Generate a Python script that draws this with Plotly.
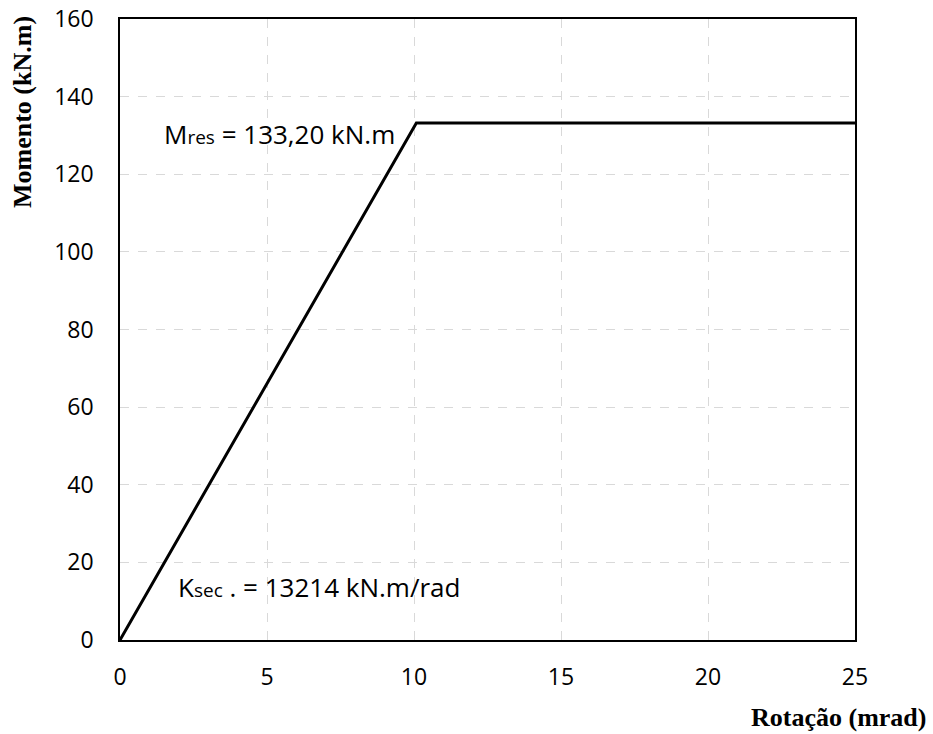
import plotly.graph_objects as go

rotation = [0, 10.08, 25]
moment = [0, 133.2, 133.2]
x_ticks = [0, 5, 10, 15, 20, 25]
y_ticks = [0, 20, 40, 60, 80, 100, 120, 140, 160]

W, H = 933, 734
PL, PR, PT, PB = 120, 855, 19, 640
L, R, T, B = PL, W - PR, PT, H - PB

fig = go.Figure()
fig.add_trace(go.Scatter(x=rotation, y=moment, mode="lines",
                         line=dict(color="black", width=3), showlegend=False,
                         hoverinfo="skip"))

tickfont = dict(family="Open Sans", size=23, color="#000")
grid = dict(showgrid=True, gridcolor="#d9d9d9", gridwidth=1, griddash="dash",
            showline=True, linecolor="black", linewidth=1.5, mirror=True,
            zeroline=False, ticks="", tickfont=tickfont, automargin=False,
            ticklabeloverflow="allow")

fig.update_xaxes(range=[0, 25], tickvals=x_ticks, ticklabelstandoff=16, **grid)
fig.update_yaxes(range=[0, 160], tickvals=y_ticks, ticklabelstandoff=20, **grid)

ann_font = dict(family="Open Sans", size=26, color="black")
fig.add_annotation(x=1.43, y=130.4, xref="x", yref="y", xanchor="left", yanchor="middle",
                   text="M<span style='font-size:19px'>res</span> = 133,20 kN.m",
                   showarrow=False, font=ann_font)
fig.add_annotation(x=1.9, y=13.7, xref="x", yref="y", xanchor="left", yanchor="middle",
                   text="K<span style='font-size:19px'>sec</span> . = 13214 kN.m/rad",
                   showarrow=False, font=ann_font)

pw, ph = PR - PL, PB - PT
title_font = dict(family="Liberation Serif", size=26, color="black")
fig.add_annotation(x=(22 - PL) / pw, y=1 - (112 - PT) / ph,
                   xref="paper", yref="paper", xanchor="center", yanchor="middle",
                   textangle=-90, text="<b>Momento (kN.m)</b>", showarrow=False,
                   font=title_font)
fig.add_annotation(x=(838 - PL) / pw, y=-(717 - PB) / ph,
                   xref="paper", yref="paper", xanchor="center", yanchor="middle",
                   text="<b>Rotação (mrad)</b>", showarrow=False, font=title_font)

fig.update_layout(width=W, height=H, margin=dict(l=L, r=R, t=T, b=B),
                  plot_bgcolor="white", paper_bgcolor="white")

fig.write_html("out.html", config={"displayModeBar": False},
               post_script="document.body.style.margin='0';"
                           "document.body.style.overflow='hidden';")
